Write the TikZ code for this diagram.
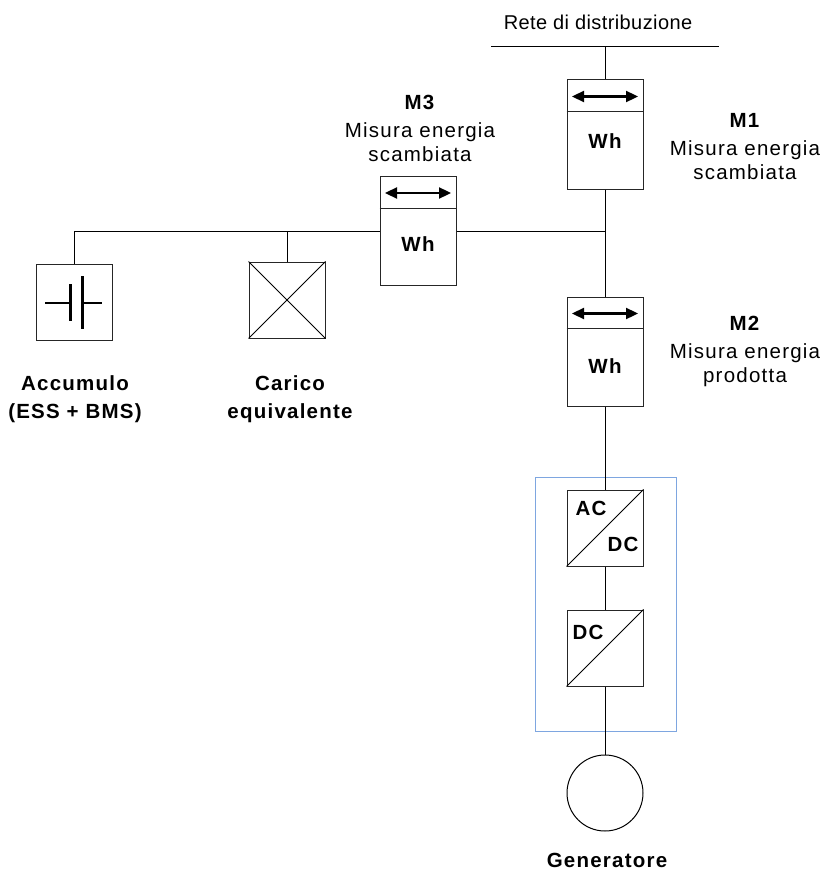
\documentclass[tikz,border=0pt]{standalone}
\usepackage{fontspec}
\setmainfont{Liberation Sans}[LetterSpace=6]
\newfontfamily\retefont{Liberation Sans}[LetterSpace=2]
\usetikzlibrary{arrows.meta,calc}
\definecolor{frameblue}{RGB}{126,166,224}

\begin{document}
\begin{tikzpicture}[x=1pt,y=-1pt,line width=1pt,
    every node/.style={inner sep=0pt},
    meter/.style={draw=black!85, fill=white, minimum width=76pt, minimum height=109pt},
    conv/.style={draw=black!85, fill=white, minimum size=76pt},
    wh/.style={font=\fontsize{20.5}{24}\selectfont\bfseries},
    tag/.style={font=\fontsize{20.5}{24}\selectfont, align=center, anchor=north},
    sign/.style={font=\fontsize{20.5}{28}\selectfont\bfseries, align=center, anchor=north},
    twoway/.style={{Triangle[length=12pt,width=11pt]}-{Triangle[length=12pt,width=11pt]}, line width=2.3pt},
    plate/.style={line width=3pt}]
    \useasboundingbox (0,0) rectangle (826,872);

    % rete
    \node (rete) at (598,22) {\fontsize{20}{24}\retefont Rete di distribuzione};
    \coordinate (busw) at (491,47);
    \coordinate (buse) at (719,47);
    \coordinate (bus) at (605,47);
    \draw (busw) -- (buse);

    % contatori
    \node[meter] (m1) at (605,134.5) {};
    \node[meter] (m3) at (418,231) {};
    \node[meter] (m2) at (605,351.5) {};
    \foreach \m in {m1,m2,m3} {
        \draw[black!85] ([yshift=-32pt]\m.north west) -- ([yshift=-32pt]\m.north east);
        \draw[twoway] ([shift={(-33pt,-17pt)}]\m.north) -- ([shift={(33pt,-17pt)}]\m.north);
    }
    \node[wh] (m1wh) at (605,141) {Wh};
    \node[wh] (m3wh) at (418,244) {Wh};
    \node[wh] (m2wh) at (605,366) {Wh};

    \node[tag] (m1txt) at (745,112.7) {\textbf{M1}\\[4pt]Misura energia\\scambiata};
    \node[tag] (m3txt) at (420,94.7) {\textbf{M3}\\[4pt]Misura energia\\scambiata};
    \node[tag] (m2txt) at (745,315.7) {\textbf{M2}\\[4pt]Misura energia\\prodotta};

    % utenze
    \coordinate (junc) at (605,231);
    \node[conv] (bat) at (74,302) {};
    \node[conv] (load) at (287,300) {};
    \draw[plate] ([shift={(-4,-18)}]bat.center) -- ([shift={(-4,19)}]bat.center);
    \draw[plate] ([shift={(8,-26)}]bat.center) -- ([shift={(8,27)}]bat.center);
    \draw[line width=2.5pt] ([shift={(-29,1)}]bat.center) -- ([shift={(-4,1)}]bat.center);
    \draw[line width=2.5pt] ([shift={(8,1)}]bat.center) -- ([shift={(28,1)}]bat.center);
    \draw (load.north west) -- (load.south east) (load.north east) -- (load.south west);
    \node[sign] (batname) at (75,374.7) {Accumulo\\(ESS + BMS)};
    \node[sign] (loadname) at (290,374.7) {Carico\\equivalente};

    % inverter
    \draw[frameblue] (535,477) rectangle (676,731);
    \node[conv] (acdc) at (605,528) {};
    \node[conv] (dcdc) at (605,648) {};
    \draw (acdc.south west) -- (acdc.north east);
    \draw (dcdc.south west) -- (dcdc.north east);
    \node[wh] (ac) at ([shift={(-14,-20)}]acdc.center) {AC};
    \node[wh] (dc1) at ([shift={(18,16)}]acdc.center) {DC};
    \node[wh] (dc2) at ([shift={(-17,-16)}]dcdc.center) {DC};

    % generatore
    \node[draw, circle, minimum size=76pt] (gen) at (605,793) {};
    \node[wh] (genname) at (607,860.5) {Generatore};

    % collegamenti
    \draw (bus) -- (m1);
    \draw (m1) -- (junc);
    \draw (junc) -- (m2);
    \draw (m3) -- (junc);
    \draw (m3.west) -| (bat.north);
    \draw (load.north) -- (load.north |- m3.west);
    \draw (m2) -- (acdc);
    \draw (acdc) -- (dcdc);
    \draw (dcdc) -- (gen);
\end{tikzpicture}
\end{document}
